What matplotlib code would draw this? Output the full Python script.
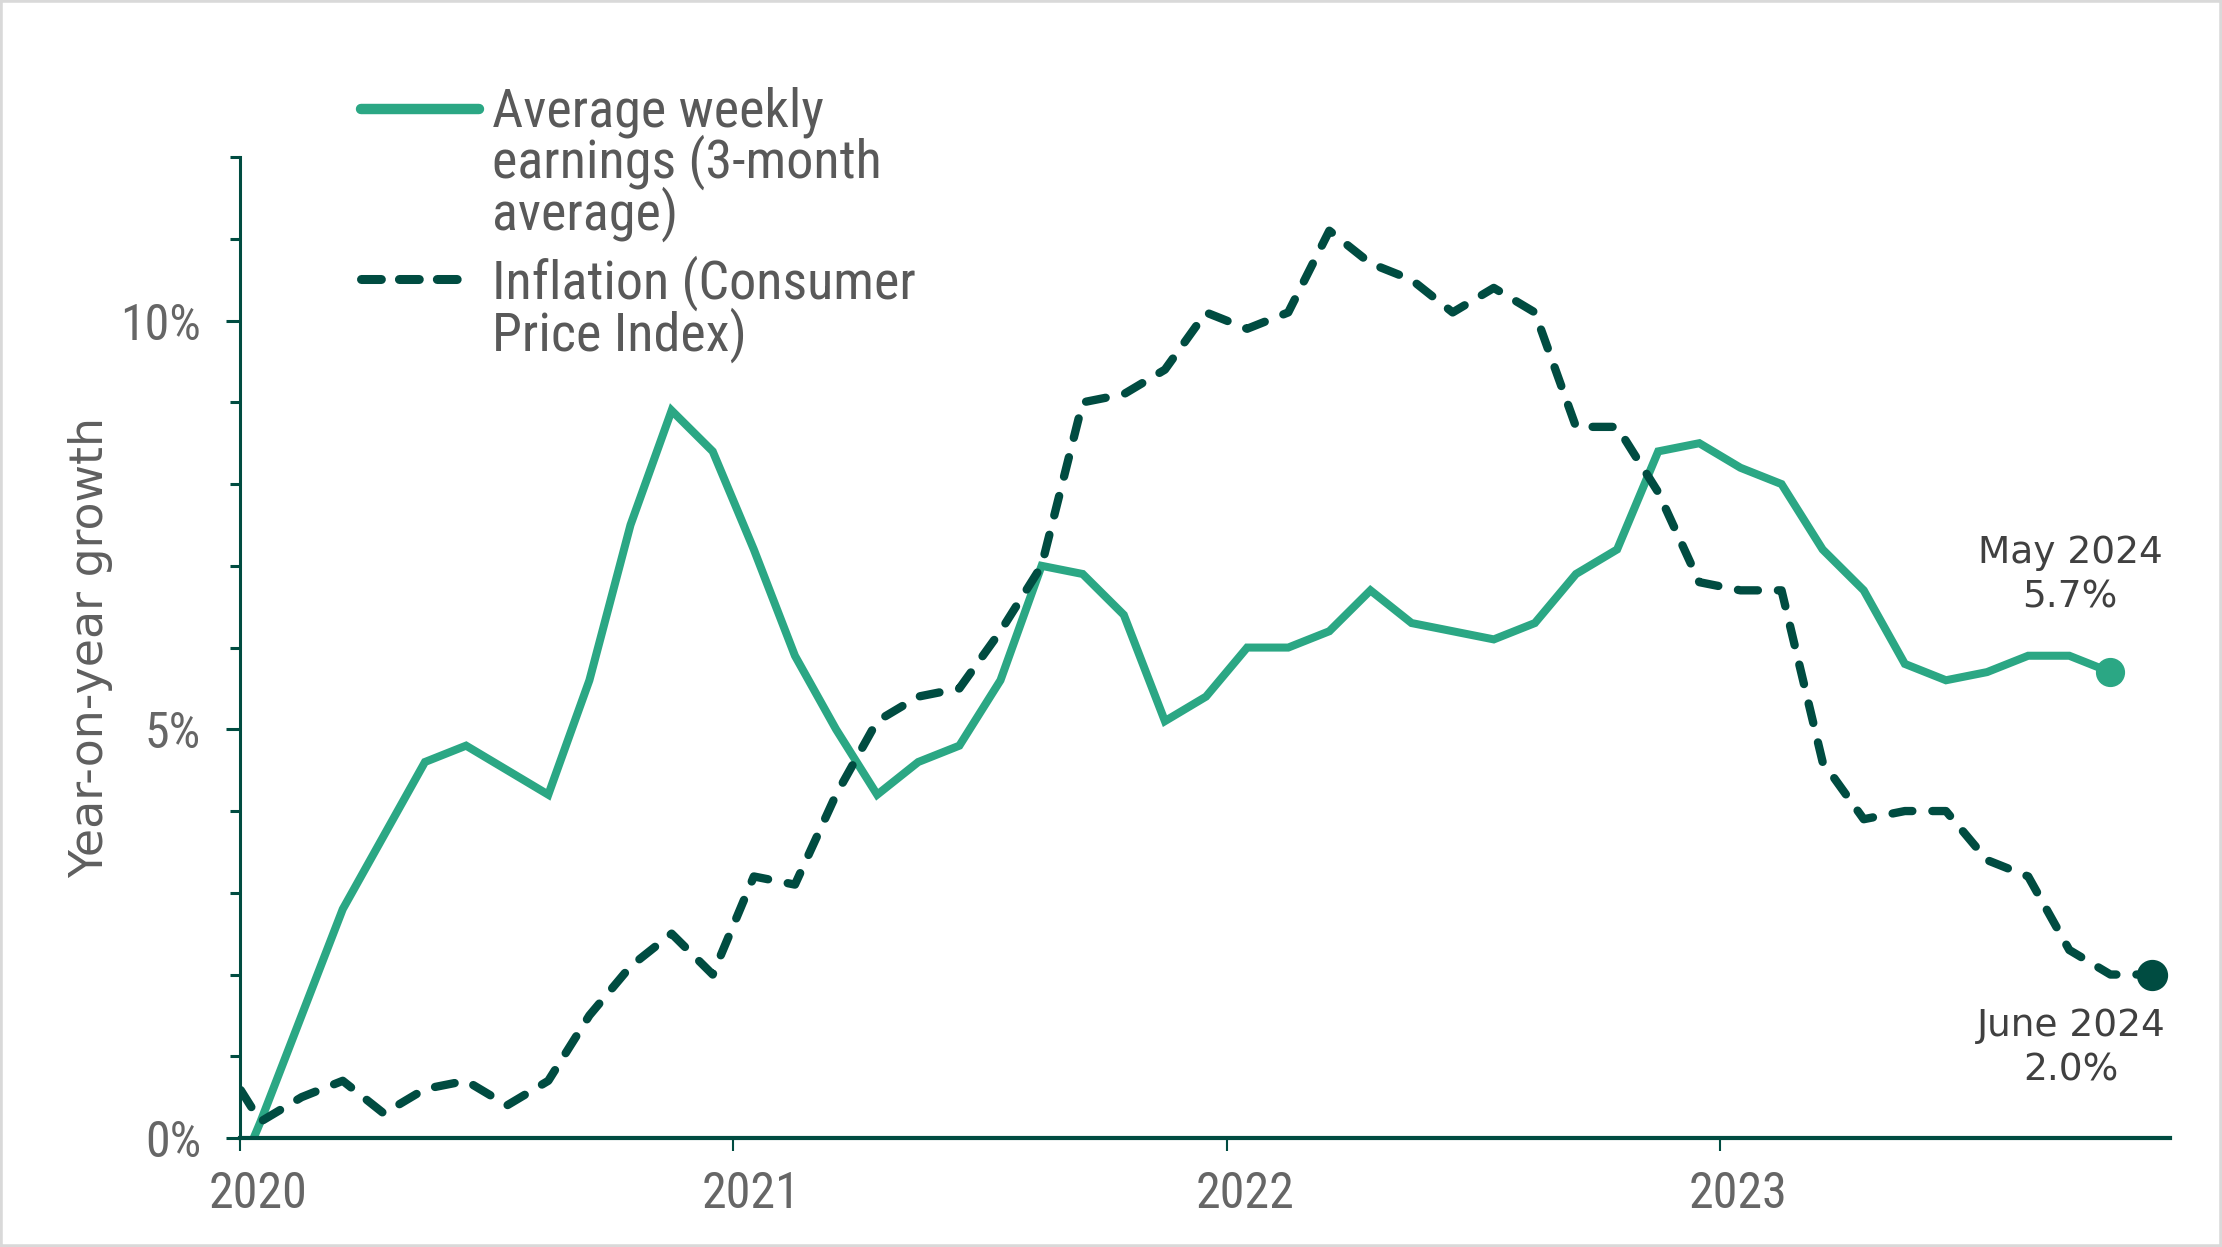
import matplotlib.pyplot as plt
from matplotlib.lines import Line2D
from matplotlib.ticker import MultipleLocator, FixedLocator
import matplotlib.transforms as mtransforms
import numpy as np

# Monthly data, July 2020 to June 2024 (year-on-year growth, %)
earnings = [-1.0, 0.2, 1.5, 2.8, 3.7, 4.6, 4.8, 4.5, 4.2, 5.6,
            7.5, 8.9, 8.4, 7.2, 5.9, 5.0, 4.2, 4.6, 4.8, 5.6,
            7.0, 6.9, 6.4, 5.1, 5.4, 6.0, 6.0, 6.2, 6.7, 6.3,
            6.2, 6.1, 6.3, 6.9, 7.2, 8.4, 8.5, 8.2, 8.0, 7.2,
            6.7, 5.8, 5.6, 5.7, 5.9, 5.9, 5.7]  # to May 2024
inflation = [1.0, 0.2, 0.5, 0.7, 0.3, 0.6, 0.7, 0.4, 0.7, 1.5,
             2.1, 2.5, 2.0, 3.2, 3.1, 4.2, 5.1, 5.4, 5.5, 6.2,
             7.0, 9.0, 9.1, 9.4, 10.1, 9.9, 10.1, 11.1, 10.7, 10.5,
             10.1, 10.4, 10.1, 8.7, 8.7, 7.9, 6.8, 6.7, 6.7, 4.6,
             3.9, 4.0, 4.0, 3.4, 3.2, 2.3, 2.0, 2.0]  # to June 2024

year_ticks = [0.5, 12.5, 24.5, 36.5]
year_labels = ['2020', '2021', '2022', '2023']
y_ticks = [0, 5, 10]
y_labels = ['0%', '5%', '10%']

green = '#2ba784'
dark = '#004c41'
grey = '#595959'
tick_font = ['Liberation Sans Narrow', 'Roboto Condensed', 'Lato']

x_e = np.arange(len(earnings))
x_i = np.arange(len(inflation))

fig = plt.figure(figsize=(22.22, 12.47), dpi=100)
ax = fig.add_axes([0.108, 0.0874, 0.8686, 0.7866])

ax.plot(x_e, earnings, color=green, lw=5.8, solid_joinstyle='miter')
ax.plot(x_i, inflation, color=dark, lw=6, dashes=(2.4, 2.4),
        dash_capstyle='round', solid_capstyle='round')

ax.plot(x_e[-1], earnings[-1], 'o', color=green, ms=20, clip_on=False, zorder=5)
ax.plot(x_i[-1], inflation[-1], 'o', color=dark, ms=21.5, clip_on=False, zorder=5)

ax.annotate('May 2024\n5.7%', (x_e[-1], earnings[-1]), xytext=(-29, 70),
            textcoords='offset points', ha='center', va='center',
            fontsize=27, color='#404040', linespacing=1.3, family='DejaVu Sans')
ax.annotate('June 2024\n2.0%', (x_i[-1], inflation[-1]), xytext=(-58, -53),
            textcoords='offset points', ha='center', va='center',
            fontsize=27, color='#404040', linespacing=1.3, family='DejaVu Sans')

ax.set_xlim(0.5, 47.45)
ax.set_ylim(0, 12)
ax.xaxis.set_major_locator(FixedLocator(year_ticks))
ax.set_xticklabels(year_labels)
ax.yaxis.set_major_locator(FixedLocator(y_ticks))
ax.set_yticklabels(y_labels)
ax.yaxis.set_minor_locator(MultipleLocator(1))

for s in ['top', 'right']:
    ax.spines[s].set_visible(False)
ax.spines['left'].set_color(dark)
ax.spines['left'].set_linewidth(2.2)
ax.spines['bottom'].set_color(dark)
ax.spines['bottom'].set_linewidth(3)
ax.tick_params(axis='y', which='major', length=10, width=2.2, color=dark, pad=18)
ax.tick_params(axis='y', which='minor', length=7, width=2.2, color=dark)
ax.tick_params(axis='x', which='major', length=9, width=1.5, color=dark, pad=14)
for lab in ax.get_xticklabels() + ax.get_yticklabels():
    lab.set_family(tick_font)
    lab.set_fontsize(36)
    lab.set_color('#666666')
# year labels sit a little to the right of their ticks
shift = mtransforms.ScaledTranslation(0.18, 0, fig.dpi_scale_trans)
for lab in ax.get_xticklabels():
    lab.set_transform(lab.get_transform() + shift)

ax.set_ylabel('Year-on-year growth', fontsize=33, color='#5f5f5f', family='DejaVu Sans')
ax.yaxis.set_label_coords(-0.066, 0.5)

# legend drawn by hand so the handle sits on the first text line
fig.add_artist(Line2D([0.1625, 0.2155], [0.9126, 0.9126], color=green, lw=7.5,
                      solid_capstyle='round'))
fig.add_artist(Line2D([0.1625, 0.2115], [0.776, 0.776], color=dark, lw=6.5,
                      dashes=(2.2, 2.0), dash_capstyle='round'))
fig.text(0.2214, 0.931, 'Average weekly\nearnings (3-month\naverage)', fontsize=39,
         family=tick_font, color=grey, va='top', linespacing=0.92)
fig.text(0.2214, 0.795, 'Inflation (Consumer\nPrice Index)', fontsize=39,
         family=tick_font, color=grey, va='top', linespacing=0.92)

fig.patches.append(plt.Rectangle((0, 0), 1, 1, transform=fig.transFigure,
                                 fill=False, edgecolor='#d9d9d9', lw=4))

fig.savefig('out.png', dpi=100)
